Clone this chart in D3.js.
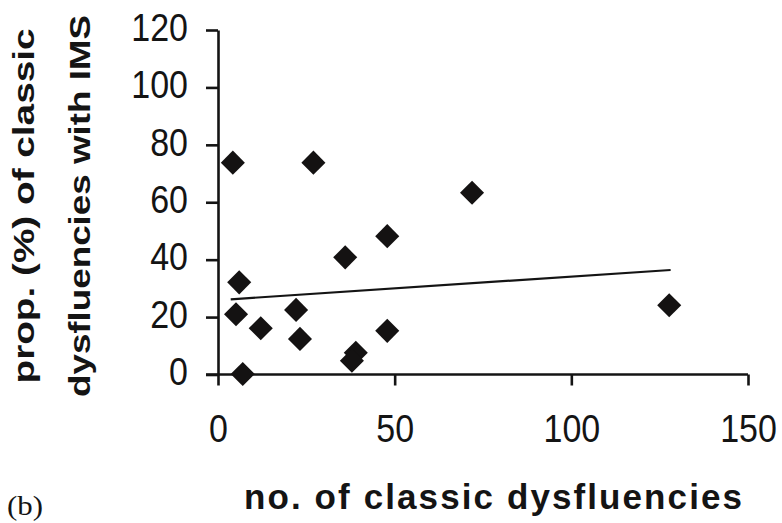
<!DOCTYPE html>
<html lang="en">
<head>
  <meta charset="UTF-8">
  <title>IMS vs classic dysfluencies</title>
  <style>
body {
  margin: 0;
  background: #fff;
}
svg text {
  fill: #141414;
}
.tick text {
  font-family: 'Liberation Sans', Arial, sans-serif;
  font-size: 34px;
}
.axis path, .axis line {
  stroke: #141414;
  stroke-width: 2.6px;
}
.title {
  font-family: 'Liberation Sans', Arial, sans-serif;
  font-weight: bold;
}
  </style>
</head>
<body>
<svg id="chart" width="782" height="523"></svg>

<script src="https://cdn.jsdelivr.net/npm/d3@7"></script>
<script>
/* global d3 */

// values
var dysfluencies = [4.2, 27.0, 71.9, 47.9, 36.0, 6.0, 5.1, 22.1, 12.1, 23.2, 47.9, 7.0, 39.0, 37.9, 127.7];
var propIMS      = [73.8, 73.8, 63.3, 48.2, 40.8, 32.1, 21.0, 22.5, 16.1, 12.4, 15.2, 0.2, 7.6, 4.8, 24.1];

// fitted line as drawn in the figure (end points)
var trendX = [3.6, 128.1];
var trendY = [26.2, 36.4];

var xTicks = [0, 50, 100, 150];
var yTicks = [0, 20, 40, 60, 80, 100, 120];

var svg = d3.select("#chart");

var x = d3.scaleLinear().domain([0, 150]).range([218, 748]);
var y = d3.scaleLinear().domain([0, 120]).range([374.5, 30]);

// y axis
var gy = svg.append("g")
  .attr("class", "axis")
  .attr("transform", "translate(" + x(0) + ",0)")
  .call(d3.axisLeft(y).tickValues(yTicks).tickSize(12).tickSizeOuter(0).tickPadding(18));
gy.selectAll(".tick text")
  .attr("dy", "0.26em")
  .attr("transform", "scale(1,1.15)");

// x axis
var gx = svg.append("g")
  .attr("class", "axis")
  .attr("transform", "translate(0," + y(0) + ")")
  .call(d3.axisBottom(x).tickValues(xTicks).tickSize(11).tickSizeOuter(0));
gx.selectAll(".tick text")
  .attr("y", 59)
  .attr("dy", 0)
  .attr("transform", "scale(1,1.15)");
gx.select(".domain").attr("d", "M" + (x(0) - 12) + ",0H" + x(150));

// trend line
var line = d3.line()
  .x(function (d) { return x(d[0]); })
  .y(function (d) { return y(d[1]); });

svg.append("path")
  .datum(d3.zip(trendX, trendY))
  .attr("d", line)
  .attr("fill", "none")
  .attr("stroke", "#141414")
  .attr("stroke-width", 2.2);

// diamonds
var diamond = d3.symbol().type(d3.symbolSquare).size(290);
svg.append("g")
  .selectAll("path")
  .data(d3.zip(dysfluencies, propIMS))
  .join("path")
    .attr("d", diamond)
    .attr("fill", "#141212")
    .attr("transform", function (d) {
      return "translate(" + x(d[0]) + "," + y(d[1]) + ") rotate(45)";
    });

// axis titles
svg.append("text")
  .attr("class", "title")
  .attr("x", 244)
  .attr("y", 509)
  .attr("font-size", 35)
  .attr("textLength", 498)
  .attr("lengthAdjust", "spacing")
  .text("no. of classic dysfluencies");

var yTitle = ["prop. (%) of classic", "dysfluencies with IMS"];
var yTitleLen = [355, 382];
var yTitleBase = [34, 90];
yTitle.forEach(function (t, i) {
  svg.append("text")
    .attr("class", "title")
    .attr("transform", "translate(" + yTitleBase[i] + ",206) rotate(-90)")
    .attr("text-anchor", "middle")
    .attr("font-size", 30)
    .attr("textLength", yTitleLen[i])
    .attr("lengthAdjust", "spacingAndGlyphs")
    .text(t);
});

// panel label
svg.append("text")
  .attr("x", 7)
  .attr("y", 515)
  .attr("font-family", "'Liberation Serif', 'Times New Roman', serif")
  .attr("font-size", 27)
  .attr("textLength", 36)
  .attr("lengthAdjust", "spacingAndGlyphs")
  .text("(b)");
</script>
</body>
</html>
